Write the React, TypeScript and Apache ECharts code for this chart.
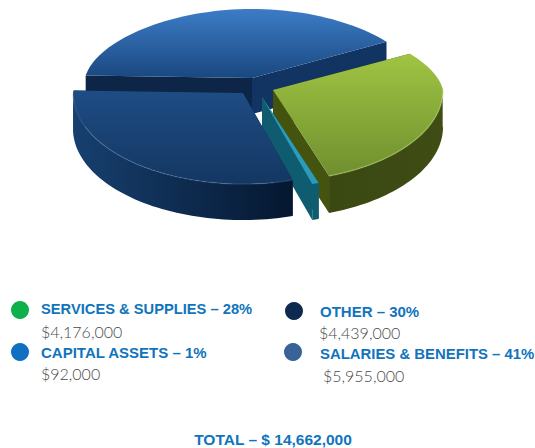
import React, { useEffect, useRef } from "react";
import * as echarts from "echarts";

const categories = ["SALARIES & BENEFITS", "SERVICES & SUPPLIES", "CAPITAL ASSETS", "OTHER"];
const amounts = [5955000, 4176000, 92000, 4439000];
const percents = ["41%", "28%", "1%", "30%"];
const amountLabels = ["$5,955,000", "$4,176,000", "$92,000", "$4,439,000"];
const totalLabel = "TOTAL – $ 14,662,000";

const START = 178;
const RY_BACK = 69;
const RY_FRONT = 91;
const radii = [167, 170, 172, 170];
const apexes = [[252, 78], [273, 90], [262, 97], [243, 93]];
const depths = [36, 37, 36, 36];
const topFills = [
  ["#3c7cc6", "#1a4880"],
  ["#a0c443", "#6f8f2f"],
  ["#2c9fbd", "#2a9ab8"],
  ["#1e4c84", "#143762"],
];
const startWallFills = ["#0d2647", "#3f4f14", "#0f5c70", "#0a2442"];
const endWallFills = ["#123463", "#44540f", "#0f5c70", "#0a2442"];
const wallFills = [
  ["#123560", "#0c2748"],
  ["#3a4812", "#3f4c14"],
  ["#0f5c70", "#0f5c70"],
  ["#17406f", "#051730"],
];
const edgeColors = ["rgba(255,255,255,0)", "rgba(190,220,110,0.4)", "rgba(255,255,255,0)", "rgba(110,150,200,0.22)"];
const legendSpots = [
  { i: 1, dotX: 20, dotY: 310, x: 41, y: 309, ay: 331, ax: 41, size: 14.7, color: "#0db14b" },
  { i: 2, dotX: 20, dotY: 352, x: 41, y: 352, ay: 373, ax: 41, size: 15, color: "#0f6fc0" },
  { i: 3, dotX: 294, dotY: 311, x: 320, y: 311, ay: 332, ax: 319, size: 15, color: "#0e2a4f" },
  { i: 0, dotX: 293, dotY: 352, x: 320, y: 354, ay: 375, ax: 323, size: 14.9, color: "#386397" },
];

const total = amounts.reduce((a, b) => a + b, 0);
const angles: number[][] = [];
{
  let a = START;
  for (const v of amounts) {
    const span = (v / total) * 360;
    angles.push([a, a - span]);
    a -= span;
  }
}

function pt(i: number, deg: number) {
  const r = (deg * Math.PI) / 180;
  const s = Math.sin(r);
  const apex = apexes[i];
  const narrowing = 1 - 0.1 * Math.max(s, 0);
  return [apex[0] + radii[i] * narrowing * Math.cos(r), apex[1] - (s > 0 ? RY_BACK : RY_FRONT) * s];
}
const grad = (c: string[], horiz = false) =>
  new echarts.graphic.LinearGradient(0, 0, horiz ? 1 : 0, horiz ? 0 : 1, [
    { offset: 0, color: c[0] },
    { offset: 1, color: c[1] },
  ]);

function renderItem(params: any) {
  const i = params.dataIndex;
  const [a0, a1] = angles[i];
  const apex = apexes[i];
  const d = depths[i];
  const steps = 60;
  const arc: number[][] = [];
  for (let k = 0; k <= steps; k++) arc.push(pt(i, a0 + ((a1 - a0) * k) / steps));
  const children: any[] = [];
  const radial = (p: number[], fill: string) => ({
    type: "polygon",
    shape: { points: [apex, p, [p[0], p[1] + d], [apex[0], apex[1] + d]] },
    style: { fill },
  });
  children.push(radial(arc[0], startWallFills[i]));
  children.push(radial(arc[steps], endWallFills[i]));
  const low: number[][] = [];
  for (let k = 0; k <= steps; k++) {
    const ang = a0 + ((a1 - a0) * k) / steps;
    if (Math.sin((ang * Math.PI) / 180) < 0.02) low.push(arc[k]);
  }
  if (low.length > 1) {
    children.push({
      type: "polygon",
      shape: { points: [...low, ...low.slice().reverse().map((p) => [p[0], p[1] + d])] },
      style: { fill: grad(wallFills[i], true) },
    });
  }
  children.push({
    type: "polygon",
    shape: { points: [apex, ...arc] },
    style: { fill: grad(topFills[i]) },
  });
  if (low.length > 1) {
    children.push({
      type: "polyline",
      shape: { points: low },
      style: { stroke: edgeColors[i], lineWidth: 1.5, fill: "none" },
    });
  }
  return { type: "group", children };
}

export default function App() {
  const ref = useRef<HTMLDivElement>(null);
  useEffect(() => {
    const chart = echarts.init(ref.current!, undefined, { renderer: "svg" });
    const graphic: any[] = [];
    for (const s of legendSpots) {
      graphic.push({
        type: "circle",
        shape: { cx: s.dotX, cy: s.dotY, r: 9 },
        style: { fill: s.color },
      });
      graphic.push({
        type: "text",
        x: s.x,
        y: s.y,
        style: {
          text: `${categories[s.i]} – ${percents[s.i]}`,
          fill: "#1074bd",
          font: `bold ${s.size}px 'Liberation Sans'`,
          textVerticalAlign: "middle",
        },
      });
      graphic.push({
        type: "text",
        x: s.ax,
        y: s.ay,
        style: {
          text: amountLabels[s.i],
          fill: "#4a4a4a",
          font: "300 16px Lato",
          textVerticalAlign: "middle",
        },
      });
    }
    graphic.push({
      type: "text",
      x: 273,
      y: 439,
      style: {
        text: totalLabel,
        fill: "#1074bd",
        font: "bold 15.5px 'Liberation Sans'",
        textAlign: "center",
        textVerticalAlign: "middle",
      },
    });
    chart.setOption({
      animation: false,
      backgroundColor: "#ffffff",
      graphic,
      series: [
        {
          type: "custom",
          coordinateSystem: "none",
          renderItem,
          data: amounts.map((v) => [v]),
          silent: true,
        },
      ],
    });
    return () => chart.dispose();
  }, []);
  return <div ref={ref} style={{ position: "fixed", left: 0, top: 0, width: 535, height: 448 }} />;
}
